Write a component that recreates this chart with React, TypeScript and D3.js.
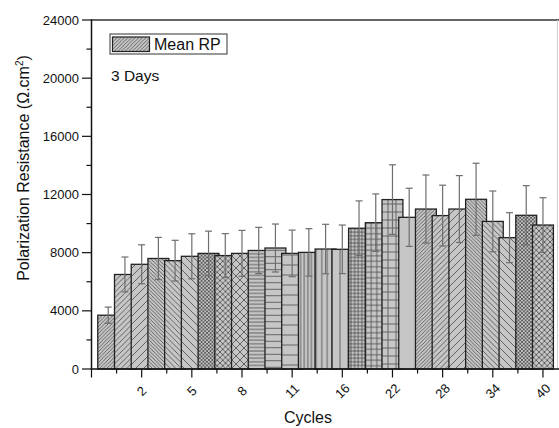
import React from "react";
import * as d3 from "d3";

const cycles = ["0","1","2","3","4","5","6","7","8","9","10","11","12","14","16","18","20","22","24","26","28","30","32","34","36","38","40"];
const meanRP = [3700,6500,7200,7600,7450,7750,7950,7800,7950,8150,8320,7950,8020,8250,8230,9680,10060,11650,10430,11000,10550,11000,11670,10150,9030,10570,9900];
const errRP = [560,1200,1340,1450,1400,1550,1530,1510,1580,1590,1650,1600,1630,1700,1670,1880,1980,2390,2000,2340,2090,2300,2480,2090,1720,2040,1880];
const yTicks = [0,4000,8000,12000,16000,20000,24000];
const yMinor = [2000,6000,10000,14000,18000,22000];
const seriesName = "Mean RP";
const noteText = "3 Days";

const W = 559, H = 428;
const FONT = "Arial, 'Liberation Sans', Helvetica, sans-serif";

type Pat = { kind: string; s: number };
const patternCycle: Pat[] = [
  { kind: "up", s: 3.6 }, { kind: "up", s: 5.5 }, { kind: "up", s: 8 },
  { kind: "down", s: 3.6 }, { kind: "down", s: 5.5 }, { kind: "down", s: 8 },
  { kind: "cross", s: 3.6 }, { kind: "cross", s: 5.5 }, { kind: "cross", s: 8 },
  { kind: "h", s: 3.6 }, { kind: "h", s: 6.5 }, { kind: "h", s: 10 },
  { kind: "v", s: 3.6 }, { kind: "v", s: 5.5 }, { kind: "v", s: 8 },
  { kind: "grid", s: 3.6 }, { kind: "grid", s: 5.5 }, { kind: "grid", s: 8 },
  { kind: "none", s: 4 },
];

const FILL = "#c6c6c6";
const LINE = "#4a4a4a";

function patternPath(p: Pat): string {
  const s = p.s;
  const up = `M0,${s}L${s},0M-1,1L1,-1M${s - 1},${s + 1}L${s + 1},${s - 1}`;
  const down = `M0,0L${s},${s}M-1,${s - 1}L1,${s + 1}M${s - 1},-1L${s + 1},1`;
  const h = `M0,${s / 2}L${s},${s / 2}`;
  const v = `M${s / 2},0L${s / 2},${s}`;
  switch (p.kind) {
    case "up": return up;
    case "down": return down;
    case "cross": return up + down;
    case "h": return h;
    case "v": return v;
    case "grid": return h + v;
    default: return "";
  }
}

export default function App() {
  const x = d3.scaleLinear().domain([0, 27.84]).range([91.5, 557]);
  const y = d3.scaleLinear().domain([0, 24000]).range([369, 20]);
  const unit = x(1) - x(0);
  const bw = 1.25 * unit;

  const majorX = d3.range(0, 28, 3);
  const minorX = d3.range(1.5, 28, 3);

  return (
    <svg width={W} height={H} style={{ position: "absolute", left: 0, top: 0, background: "#fff" }} fontFamily={FONT}>
      <defs>
        {patternCycle.map((p, k) => (
          <pattern key={k} id={`pat${k}`} patternUnits="userSpaceOnUse" width={p.s} height={p.s}>
            <rect x={0} y={0} width={p.s} height={p.s} fill={FILL} />
            {p.kind !== "none" && (
              <path d={patternPath(p)} stroke={LINE} strokeWidth={0.8} fill="none" />
            )}
          </pattern>
        ))}
      </defs>
      <rect x={0} y={0} width={W} height={H} fill="#fff" />

      {/* bars */}
      {meanRP.map((v, i) => (
        <rect
          key={i}
          x={x(i + 1) - bw / 2}
          y={y(v)}
          width={bw}
          height={y(0) - y(v)}
          fill={`url(#pat${i % patternCycle.length})`}
          stroke="#222"
          strokeWidth={1.3}
        />
      ))}

      {/* error bars */}
      {meanRP.map((v, i) => {
        const cx = x(i + 1);
        const yt = y(v + errRP[i]);
        const yb = y(v - errRP[i]);
        return (
          <g key={`e${i}`} stroke="#6e6e6e" strokeWidth={1.2}>
            <line x1={cx} x2={cx} y1={yt} y2={yb} />
            <line x1={cx - 3.5} x2={cx + 3.5} y1={yt} y2={yt} />
            <line x1={cx - 3.5} x2={cx + 3.5} y1={yb} y2={yb} />
          </g>
        );
      })}

      {/* frame */}
      <line x1={91.5} x2={559} y1={20} y2={20} stroke="#333" strokeWidth={1.6} />
      <line x1={557.5} x2={557.5} y1={20} y2={369} stroke="#d0d0d0" strokeWidth={1} />
      <line x1={91.5} x2={91.5} y1={19.2} y2={369.8} stroke="#111" strokeWidth={1.5} />
      <line x1={90.8} x2={559} y1={369} y2={369} stroke="#111" strokeWidth={1.5} />

      {/* y ticks */}
      {yTicks.map((t) => (
        <g key={`yt${t}`}>
          <line x1={82} x2={91.5} y1={y(t)} y2={y(t)} stroke="#111" strokeWidth={1.2} />
          <text x={79} y={y(t)} dy="0.35em" textAnchor="end" fontSize={13} fill="#111">{t}</text>
        </g>
      ))}
      {yMinor.map((t) => (
        <line key={`ym${t}`} x1={86.5} x2={91.5} y1={y(t)} y2={y(t)} stroke="#111" strokeWidth={1.2} />
      ))}

      {/* x ticks */}
      {majorX.map((t) => (
        <g key={`xt${t}`}>
          <line x1={x(t)} x2={x(t)} y1={369} y2={377.5} stroke="#111" strokeWidth={1.2} />
          {t > 0 && (
            <text
              transform={`translate(${x(t)},391) rotate(-45)`}
              textAnchor="middle"
              dy="0.35em"
              fontSize={13}
              fill="#111"
            >
              {cycles[t - 1]}
            </text>
          )}
        </g>
      ))}
      {minorX.map((t) => (
        <line key={`xm${t}`} x1={x(t)} x2={x(t)} y1={369} y2={373.5} stroke="#111" strokeWidth={1.2} />
      ))}

      {/* axis titles */}
      <text x={308} y={423} textAnchor="middle" fontSize={16} fill="#111">Cycles</text>
      <text transform="translate(29,168) rotate(-90)" textAnchor="middle" fontSize={16} fill="#111">
        Polarization Resistance (Ω.cm<tspan dy={-6} fontSize={10}>2</tspan><tspan dy={6}>)</tspan>
      </text>

      {/* legend */}
      <rect x={110} y={34} width={117} height={20} fill="#fff" stroke="#333" strokeWidth={1} />
      <rect x={112.5} y={37} width={37} height={14.5} fill="url(#pat0)" stroke="#222" strokeWidth={1.2} />
      <text x={154} y={50} fontSize={16} fill="#111">{seriesName}</text>
      <text x={111} y={80.5} fontSize={15.5} fill="#111">{noteText}</text>
    </svg>
  );
}
